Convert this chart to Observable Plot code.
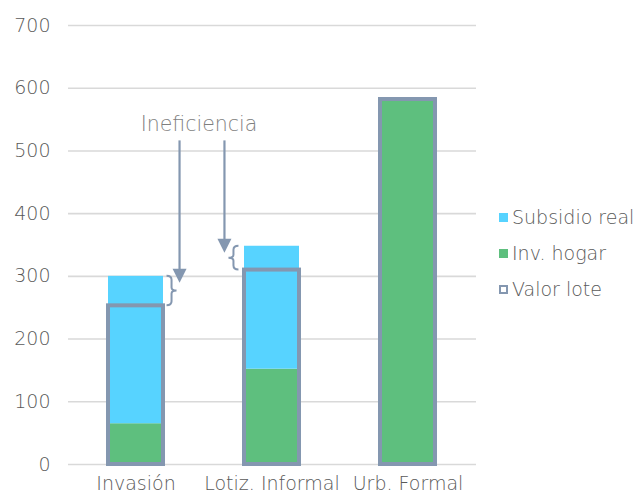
<!DOCTYPE html>
<html>
<head>
<meta charset="utf-8">
<script src="https://cdn.jsdelivr.net/npm/d3@7"></script>
<script src="https://cdn.jsdelivr.net/npm/@observablehq/plot@0.6"></script>
<style>
  body { margin: 0; background: #fff; }
  #wrap { position: relative; width: 636px; height: 495px; font-family: "DejaVu Sans", sans-serif; font-weight: 200; color: #595959; }
  #legend { position: absolute; left: 499px; top: 199px; font-size: 19px; line-height: 36px; }
  .item { display: flex; align-items: center; white-space: nowrap; }
  .sw { width: 9px; height: 9px; margin-right: 4px; box-sizing: border-box; }
</style>
</head>
<body>
<div id="wrap"></div>
<script>
// Cost breakdown per urbanisation route
const categories   = ["Invasión", "Lotiz. Informal", "Urb. Formal"];
const invHogar     = [65, 152, 582];
const subsidioReal = [235, 196, 0];
const valorLote    = [253, 310, 582];

const series = ["Inv. hogar", "Subsidio real"];
const colors = {"Inv. hogar": "#5EBF7E", "Subsidio real": "#57D3FF"};
const outline = "#8497B0";

// "Ineficiencia" callout: arrows point at the gap between lot value and total
const calloutLabel = "Ineficiencia";
const calloutY = 541;
const arrowStart = 516;
const arrowTips = [289, 337];

const stacked = categories.flatMap((c, i) => [
  {cat: c, serie: "Inv. hogar", value: invHogar[i]},
  {cat: c, serie: "Subsidio real", value: subsidioReal[i]}
]);
const lots = categories.map((c, i) => ({cat: c, value: valorLote[i]}));

const font = "'DejaVu Sans', sans-serif";
const plot = Plot.plot({
  width: 636,
  height: 495,
  marginLeft: 68,
  marginRight: 160,
  marginTop: 25,
  marginBottom: 31,
  style: {fontFamily: font, fontWeight: 200, fontSize: "19px", color: "#595959", background: "white", overflow: "visible"},
  x: {domain: categories, paddingInner: 0.595, paddingOuter: 0.2975, label: null},
  y: {domain: [0, 700], label: null},
  marks: [
    Plot.gridY(d3.range(0, 701, 100), {stroke: "#d9d9d9", strokeOpacity: 1, strokeWidth: 1.6}),
    Plot.axisY(d3.range(0, 701, 100), {tickSize: 0, tickPadding: 18, label: null, fill: "#595959"}),
    Plot.axisX({tickSize: 0, tickPadding: 12, label: null, fill: "#595959"}),
    Plot.barY(stacked, {x: "cat", y: "value", fill: d => colors[d.serie], order: series}),
    Plot.barY(lots, {x: "cat", y: "value", fill: "none", stroke: outline, strokeWidth: 4})
  ]
});

// Callout drawn with the chart's own scales
const xs = plot.scale("x");
const ys = plot.scale("y");
const xb = d3.scaleBand().domain(xs.domain).range(xs.range).paddingInner(xs.paddingInner).paddingOuter(xs.paddingOuter).align(xs.align);
const yl = d3.scaleLinear().domain(ys.domain).range(ys.range);
const svg = d3.select(plot);
const g = svg.append("g").attr("fill", "none").attr("stroke", outline);

function brace(x, yTop, yBot, dir) {
  // dir = 1 : "}" tip to the right; dir = -1 : "{" tip to the left
  const w = 5 * dir, ym = (yTop + yBot) / 2;
  return `M${x},${yTop} Q${x + w},${yTop} ${x + w},${yTop + 4} L${x + w},${ym - 3} Q${x + w},${ym} ${x + 2 * w},${ym}` +
         ` Q${x + w},${ym} ${x + w},${ym + 3} L${x + w},${yBot - 4} Q${x + w},${yBot} ${x},${yBot}`;
}

const totals = categories.map((c, i) => invHogar[i] + subsidioReal[i]);
// Invasión: brace right of the bar; Lotiz. Informal: brace left of the bar
const bx0 = xb(categories[0]) + xb.bandwidth() + 3;
const bx1 = xb(categories[1]) - 6;
g.append("path").attr("d", brace(bx0, yl(totals[0]), yl(valorLote[0]), 1)).attr("stroke-width", 2);
g.append("path").attr("d", brace(bx1, yl(totals[1]), yl(valorLote[1]), -1)).attr("stroke-width", 2);

const ax = [bx0 + 13, bx1 - 14];
ax.forEach((x, i) => {
  const tip = yl(arrowTips[i]);
  g.append("line").attr("x1", x).attr("x2", x).attr("y1", yl(arrowStart)).attr("y2", tip - 12).attr("stroke-width", 2.2);
  g.append("path").attr("d", `M${x - 7},${tip - 14} L${x + 7},${tip - 14} L${x},${tip} Z`).attr("fill", outline).attr("stroke", "none");
});
svg.append("text").attr("x", (ax[0] + ax[1]) / 2 - 3).attr("y", yl(calloutY)).attr("text-anchor", "middle")
  .attr("dominant-baseline", "middle").attr("fill", "#7f7f7f").attr("font-size", "20.5px").text(calloutLabel);

const wrap = document.getElementById("wrap");
wrap.appendChild(plot);

// Legend
const legendItems = [
  {label: "Subsidio real", fill: colors["Subsidio real"], border: "none"},
  {label: "Inv. hogar", fill: colors["Inv. hogar"], border: "none"},
  {label: "Valor lote", fill: "#fff", border: `2.5px solid ${outline}`}
];
const legend = d3.select(wrap).append("div").attr("id", "legend");
legendItems.forEach(it => {
  const row = legend.append("div").attr("class", "item");
  row.append("div").attr("class", "sw").style("background", it.fill).style("border", it.border);
  row.append("span").text(it.label);
});
</script>
</body>
</html>
